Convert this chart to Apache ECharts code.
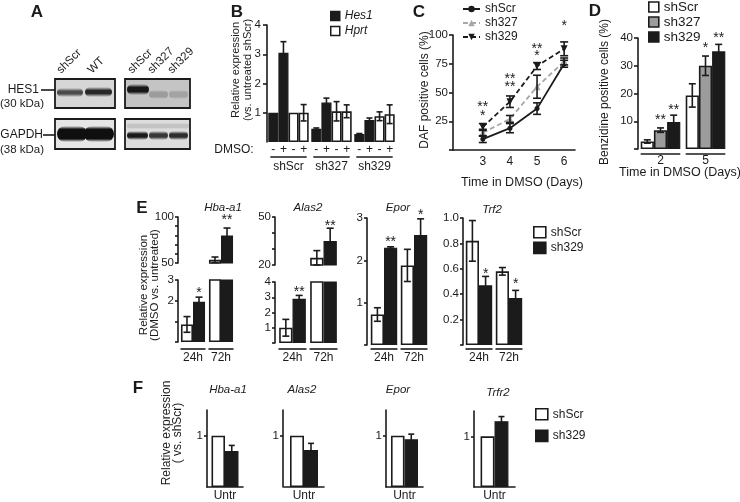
<!DOCTYPE html>
<html><head><meta charset="utf-8">
<script src="https://cdn.jsdelivr.net/npm/echarts@6/dist/echarts.min.js"></script>
<style>html,body{margin:0;padding:0;background:#fff}#c{width:740px;height:502px}</style>
</head><body><div id="c"></div>
<script>
// ================= DATA =================
// Panel B
const bGroups = ['shScr', 'sh327', 'sh329'];
const bDmso = ['-', '+', '-', '+'];
const bHes1Minus = [1.0, 0.45, 0.27],  bHes1MinusErr = [0, 0.03, 0.02];
const bHes1Plus  = [3.05, 1.35, 0.75], bHes1PlusErr  = [0.38, 0.15, 0.07];
const bHprtMinus = [1.0, 1.05, 0.88],  bHprtMinusErr = [0, 0.33, 0.15];
const bHprtPlus  = [1.0, 1.05, 0.95],  bHprtPlusErr  = [0.28, 0.22, 0.32];
const bYTicks = [1, 2, 3, 4];

// Panel C
const cDays = [3, 4, 5, 6];
const cShScr = [9.5, 19, 36, 75], cShScrErr = [3, 4, 5, 3];
const cSh327 = [15, 27, 55, 77],  cSh327Err = [3, 3, 10, 3];
const cSh329 = [20, 42, 73, 88],  cSh329Err = [3, 5, 3, 6];
const cYTicks = [25, 50, 75, 100];
const cStars = [[3, 32, '*'], [3, 40, '**'], [4, 57, '**'], [4, 64, '**'], [5, 84, '*'], [5, 90, '**'], [6, 110, '*']];

// Panel D
const dDays = ['2', '5'];
const dShScr = [2.7, 19.3], dShScrErr = [0.6, 4.2];
const dSh327 = [6.8, 30],   dSh327Err = [0.8, 3.5];
const dSh329 = [9.7, 35.2], dSh329Err = [2.5, 2.5];
const dYTicks = [10, 20, 30, 40];
const dStars = [[0, 1, 11.5, '**'], [0, 2, 15, '**'], [1, 1, 37.5, '*'], [1, 2, 41, '**']];

// Panel E
const eTimes = ['24h', '72h'];
const eHbaScr = [0.85, 53.5], eHbaScrErr = [0.38, 3];
const eHba329 = [1.95, 80],   eHba329Err = [0.22, 8];
const eAlasScr = [1.0, 24.5], eAlasScrErr = [0.55, 4.5];
const eAlas329 = [2.9, 35],   eAlas329Err = [0.22, 8];
const eEporScr = [0.72, 1.88], eEporScrErr = [0.16, 0.38];
const eEpor329 = [2.3, 2.6],   eEpor329Err = [0.02, 0.38];
const eTrfScr = [0.82, 0.58], eTrfScrErr = [0.16, 0.03];
const eTrf329 = [0.47, 0.37], eTrf329Err = [0.07, 0.06];

// Panel F
const fCats = ['Untr'];
const fHbaScr = [1.0],  fHba329 = [0.7],  fHba329Err = [0.11];
const fAlasScr = [1.0], fAlas329 = [0.72], fAlas329Err = [0.13];
const fEporScr = [1.0], fEpor329 = [0.93], fEpor329Err = [0.1];
const fTrfScr = [1.0],  fTrf329 = [1.3],  fTrf329Err = [0.09];

// ================= STYLE / HELPERS =================
const INK = '#1b1b1b';
const FONT = '"Liberation Sans", Arial, sans-serif';
const TICKFS = 11.5;
const WHITE = {color: '#ffffff', borderColor: INK, borderWidth: 1.6};
const BLACK = {color: INK, borderColor: INK, borderWidth: 1.2};
const GRAY  = {color: '#9c9c9c', borderColor: INK, borderWidth: 1.6};

const grids = [], xAxes = [], yAxes = [], series = [], graphics = [];
const underlines = [];

function errItem(n, gap, idx, cap) {
  return function (params, api) {
    const ci = api.value(0), v = api.value(1), e = api.value(2);
    const band = api.size([1, 0])[0], tot = band * (1 - gap), w = tot / n;
    const x = api.coord([ci, v])[0] - tot / 2 + w * (idx + 0.5);
    const yh = api.coord([ci, v + e])[1], yl = api.coord([ci, v - e])[1];
    const st = {stroke: INK, lineWidth: 1.6};
    return {type: 'group', children: [
      {type: 'line', shape: {x1: x, y1: yh, x2: x, y2: yl}, style: st},
      {type: 'line', shape: {x1: x - cap / 2, y1: yh, x2: x + cap / 2, y2: yh}, style: st},
      {type: 'line', shape: {x1: x - cap / 2, y1: yl, x2: x + cap / 2, y2: yl}, style: st}
    ]};
  };
}
function starItem(stars, n, gap, fs) {
  return function (params, api) {
    const s = stars[params.dataIndex];
    const band = api.size([1, 0])[0], tot = band * (1 - gap), w = tot / n;
    const c = api.coord([s[0], s[2]]);
    const x = c[0] - tot / 2 + w * (s[1] + 0.5);
    return {type: 'text', x: x, y: c[1] + 3, style: {text: s[3], fill: INK, fontSize: fs, fontFamily: FONT, align: 'center', verticalAlign: 'middle'}};
  };
}

function groupedBars(o) {
  const gi = grids.push({left: o.left, top: o.top, width: o.width, height: o.height}) - 1;
  const xi = xAxes.push({
    gridIndex: gi, type: 'category', data: o.cats,
    axisLine: {show: !!o.xLine, lineStyle: {color: INK, width: 1.6}},
    axisTick: {show: false},
    axisLabel: {show: !!o.xLabels, color: INK, fontFamily: FONT, fontSize: o.xFont || 12, margin: o.xMargin || 8, interval: 0},
    splitLine: {show: false}
  }) - 1;
  const yi = yAxes.push({
    gridIndex: gi, type: 'value', min: o.min, max: o.max, offset: o.offset || 0,
    axisLine: {show: true, lineStyle: {color: INK, width: 1.6}},
    axisTick: {show: true, length: o.tickLen || 4, lineStyle: {color: INK, width: 1.6}, customValues: o.ticks},
    axisLabel: {show: true, color: INK, fontFamily: FONT, fontSize: o.yFont || TICKFS, margin: o.yMargin || 5, customValues: o.labels,
      formatter: o.fmt || function (v) { return String(v); }},
    splitLine: {show: false}
  }) - 1;
  const n = o.series.length, gap = o.gap;
  o.series.forEach(function (s) {
    series.push({type: 'bar', name: s.name, xAxisIndex: xi, yAxisIndex: yi, data: s.data,
      barGap: '0%', barCategoryGap: (gap * 100) + '%', itemStyle: s.style, clip: true, silent: true, z: 2});
  });
  o.series.forEach(function (s, idx) {
    if (!s.err) return;
    const d = s.data.map(function (v, i) { return [i, v, s.err[i]]; })
      .filter(function (p) { return p[1] != null && p[2] > 0 && p[1] >= o.min && p[1] <= o.max; });
    series.push({type: 'custom', xAxisIndex: xi, yAxisIndex: yi, z: 5, silent: true, data: d, renderItem: errItem(n, gap, idx, o.cap || 7)});
  });
  if (o.stars && o.stars.length) {
    series.push({type: 'custom', xAxisIndex: xi, yAxisIndex: yi, z: 6, silent: true,
      data: o.stars.map(function (s) { return [s[0], s[2]]; }), renderItem: starItem(o.stars, n, gap, o.starSize || 14)});
  }
  if (o.underline) underlines.push({xi: xi, n: o.cats.length, width: o.width, y: o.underline.y, inset: o.underline.inset});
  return {gi: gi, xi: xi, yi: yi};
}

function T(x, y, text, o) {
  o = o || {};
  graphics.push({type: 'text', x: x, y: y, rotation: o.rot || 0, z: 20, silent: true,
    style: {text: text, fill: INK, fontSize: o.size || 12, fontFamily: FONT, fontWeight: o.weight || 'normal',
      fontStyle: o.style || 'normal', align: o.align || 'center', verticalAlign: o.valign || 'middle', lineHeight: o.lh || 12}});
}
function L(x1, y1, x2, y2, w) {
  graphics.push({type: 'line', z: 20, silent: true, shape: {x1: x1, y1: y1, x2: x2, y2: y2}, style: {stroke: INK, lineWidth: w || 1.6}});
}
function R(x, y, w, h, fill, stroke, lw) {
  graphics.push({type: 'rect', z: 15, silent: true, shape: {x: x, y: y, width: w, height: h}, style: {fill: fill, stroke: stroke || null, lineWidth: lw || 0}});
}
function BAND(x, y, w, h, a, core) {
  const c = core || 0.5;
  graphics.push({type: 'rect', z: 16, silent: true, shape: {x: x, y: y, width: w, height: h, r: h / 2},
    style: {fill: {type: 'linear', x: 0, y: 0, x2: 0, y2: 1, colorStops: [
      {offset: 0, color: 'rgba(15,15,15,0)'}, {offset: 0.5 - c / 2, color: 'rgba(15,15,15,' + a + ')'},
      {offset: 0.5 + c / 2, color: 'rgba(15,15,15,' + a + ')'}, {offset: 1, color: 'rgba(15,15,15,0)'}]}}});
}

// ================= PANEL C (line chart) — first so legend picks line icons =================
const gC = grids.push({left: 453, top: 35, width: 122, height: 115}) - 1;
const xC = xAxes.push({gridIndex: gC, type: 'value', min: 1.9, max: 6.4,
  axisLine: {show: true, onZero: false, lineStyle: {color: INK, width: 1.6}},
  axisTick: {show: false},
  axisLabel: {color: INK, fontFamily: FONT, fontSize: 12, margin: 6, customValues: cDays},
  splitLine: {show: false}}) - 1;
const yC = yAxes.push({gridIndex: gC, type: 'value', min: 0, max: 100,
  axisLine: {show: true, lineStyle: {color: INK, width: 1.6}},
  axisTick: {show: true, length: 4, lineStyle: {color: INK, width: 1.6}, customValues: [0].concat(cYTicks)},
  axisLabel: {color: INK, fontFamily: FONT, fontSize: TICKFS, margin: 5, customValues: cYTicks},
  splitLine: {show: false}}) - 1;
function cLine(name, vals, style) {
  series.push(Object.assign({type: 'line', name: name, xAxisIndex: xC, yAxisIndex: yC, silent: true,
    data: cDays.map(function (d, i) { return [d, vals[i]]; })}, style));
}
function cErr(vals, errs, z) {
  series.push({type: 'custom', xAxisIndex: xC, yAxisIndex: yC, z: z, silent: true,
    data: cDays.map(function (d, i) { return [d, vals[i], errs[i]]; }),
    renderItem: function (params, api) {
      const x = api.coord([api.value(0), api.value(1)])[0];
      const yh = api.coord([api.value(0), api.value(1) + api.value(2)])[1];
      const yl = api.coord([api.value(0), api.value(1) - api.value(2)])[1];
      const st = {stroke: INK, lineWidth: 1.6};
      return {type: 'group', children: [
        {type: 'line', shape: {x1: x, y1: yh, x2: x, y2: yl}, style: st},
        {type: 'line', shape: {x1: x - 4, y1: yh, x2: x + 4, y2: yh}, style: st},
        {type: 'line', shape: {x1: x - 4, y1: yl, x2: x + 4, y2: yl}, style: st}]};
    }});
}
cLine('shScr', cShScr, {symbol: 'circle', symbolSize: 5, z: 3, lineStyle: {color: INK, width: 1.8}, itemStyle: {color: INK}});
cLine('sh327', cSh327, {symbol: 'triangle', symbolSize: 7, z: 3, lineStyle: {color: '#a8a8a8', width: 1.8, type: [5, 3]}, itemStyle: {color: '#a8a8a8'}});
cLine('sh329', cSh329, {symbol: 'triangle', symbolRotate: 180, symbolSize: 7, z: 4, lineStyle: {color: INK, width: 1.8, type: [5, 3]}, itemStyle: {color: INK}});
cErr(cShScr, cShScrErr, 5); cErr(cSh327, cSh327Err, 5); cErr(cSh329, cSh329Err, 5);
series.push({type: 'custom', xAxisIndex: xC, yAxisIndex: yC, z: 6, silent: true,
  data: cStars.map(function (s) { return [s[0], s[1]]; }),
  renderItem: function (params, api) {
    const s = cStars[params.dataIndex];
    const c = api.coord([s[0], s[1]]);
    return {type: 'text', x: c[0], y: c[1] + 3, style: {text: s[2], fill: INK, fontSize: 14, fontFamily: FONT, align: 'center', verticalAlign: 'middle'}};
  }});

// ================= PANEL B =================
const pB = groupedBars({left: 267, top: 25, width: 129, height: 117, cats: bGroups, min: 0, max: 4,
  ticks: bYTicks, labels: bYTicks, gap: 0.06, xLabels: true, xMargin: 19, cap: 6, yMargin: 6,
  series: [
    {name: 'Hes1', data: bHes1Minus, err: bHes1MinusErr, style: BLACK},
    {name: 'Hes1', data: bHes1Plus, err: bHes1PlusErr, style: BLACK},
    {name: 'Hprt', data: bHprtMinus, err: bHprtMinusErr, style: WHITE},
    {name: 'Hprt', data: bHprtPlus, err: bHprtPlusErr, style: WHITE}]});

// ================= PANEL D =================
groupedBars({left: 638, top: 38, width: 90, height: 111, cats: dDays, min: 0, max: 40,
  ticks: [0].concat(dYTicks), labels: dYTicks, gap: 0.12, xLabels: true, xMargin: 6, cap: 7,
  underline: {y: 154, inset: 0}, stars: dStars,
  series: [
    {name: 'shScr', data: dShScr, err: dShScrErr, style: WHITE},
    {name: 'sh327', data: dSh327, err: dSh327Err, style: GRAY},
    {name: 'sh329', data: dSh329, err: dSh329Err, style: BLACK}]});

// ================= PANEL E =================
function eSeries(scr, scrErr, s329, s329Err) {
  return [{name: 'shScr', data: scr, err: scrErr, style: WHITE}, {name: 'sh329', data: s329, err: s329Err, style: BLACK}];
}
groupedBars({left: 179, top: 217, width: 56, height: 46, cats: eTimes, min: 50, max: 100, offset: 1, tickLen: 3, yMargin: 4,
  ticks: [50, 60, 70, 80, 90, 100], labels: [50, 100], gap: 0.14, stars: [[1, 1, 100, '**']],
  series: eSeries(eHbaScr, eHbaScrErr, eHba329, eHba329Err)});
groupedBars({left: 179, top: 280, width: 56, height: 62, cats: eTimes, min: 0, max: 3, offset: 1, tickLen: 3, yMargin: 4,
  ticks: [0, 1, 2, 3], labels: [2, 3], gap: 0.14, xLabels: true, xMargin: 10, stars: [[0, 1, 2.5, '*']],
  underline: {y: 349, inset: 1.5},
  series: eSeries(eHbaScr, eHbaScrErr, eHba329, eHba329Err)});
groupedBars({left: 277, top: 217, width: 62, height: 48, cats: eTimes, min: 20, max: 50, offset: 2, tickLen: 3, yMargin: 4,
  ticks: [20, 30, 40, 50], labels: [20, 50], gap: 0.14, stars: [[1, 1, 46, '**']],
  series: eSeries(eAlasScr, eAlasScrErr, eAlas329, eAlas329Err)});
groupedBars({left: 277, top: 282, width: 62, height: 61, cats: eTimes, min: 0, max: 4, offset: 2, tickLen: 3, yMargin: 4,
  ticks: [0, 1, 2, 3, 4], labels: [1, 2, 3, 4], gap: 0.14, xLabels: true, xMargin: 9, stars: [[0, 1, 3.55, '**']],
  underline: {y: 349, inset: 1.5},
  series: eSeries(eAlasScr, eAlasScrErr, eAlas329, eAlas329Err)});
groupedBars({left: 369, top: 218, width: 60, height: 127, cats: eTimes, min: 0, max: 3, offset: 2, tickLen: 3, yMargin: 4,
  ticks: [0, 1, 2, 3], labels: [1, 2, 3], gap: 0.12, xLabels: true, xMargin: 7,
  stars: [[0, 1, 2.5, '**'], [1, 1, 3.13, '*']], underline: {y: 349, inset: 1.5},
  series: eSeries(eEporScr, eEporScrErr, eEpor329, eEpor329Err)});
groupedBars({left: 464, top: 218, width: 60, height: 127, cats: eTimes, min: 0, max: 1, offset: 1, tickLen: 3, yMargin: 4,
  ticks: [0, 0.2, 0.4, 0.6, 0.8, 1.0], labels: [0.2, 0.4, 0.6, 0.8, 1.0], gap: 0.12, xLabels: true, xMargin: 7,
  fmt: function (v) { return v.toFixed(1); },
  stars: [[0, 1, 0.58, '*'], [1, 1, 0.5, '*']], underline: {y: 349, inset: 1.5},
  series: eSeries(eTrfScr, eTrfScrErr, eTrf329, eTrf329Err)});

// ================= PANEL F =================
function fPanel(left, top, width, gap, offset, scr, s329, s329Err) {
  groupedBars({left: left, top: top, width: width, height: 77, cats: fCats, min: 0, max: 1.5, offset: offset,
    ticks: [1], labels: [1], gap: gap, xLabels: true, xLine: true, xMargin: 3, xFont: 12, yFont: 11.5, cap: 6, tickLen: 3, yMargin: 4,
    series: [{name: 'shScr', data: scr, style: WHITE}, {name: 'sh329', data: s329, err: s329Err, style: BLACK}]});
}
fPanel(207, 410, 36, 0.25, 0, fHbaScr, fHba329, fHba329Err);
fPanel(284, 410, 40, 0.30, 1, fAlasScr, fAlas329, fAlas329Err);
fPanel(386, 410, 37, 0.27, 0, fEporScr, fEpor329, fEpor329Err);
fPanel(474, 411, 41, 0.32, 0, fTrfScr, fTrf329, fTrf329Err);

// ================= LEGENDS =================
function legTxt(size, extra) { return Object.assign({color: INK, fontFamily: FONT, fontSize: size}, extra || {}); }
const legends = [
  {data: [{name: 'Hes1', icon: 'rect', itemStyle: {color: INK, borderColor: INK, borderWidth: 1.5}},
          {name: 'Hprt', icon: 'rect', itemStyle: {color: '#fff', borderColor: INK, borderWidth: 1.5}}],
   left: 330, top: 10, padding: 0, orient: 'vertical', itemWidth: 9, itemHeight: 9, itemGap: 3, selectedMode: false,
   textStyle: legTxt(12, {fontStyle: 'italic'})},
  {data: ['shScr', 'sh327', 'sh329'], left: 462, top: 3, padding: 0, orient: 'vertical', itemWidth: 17, itemHeight: 8, itemGap: 2,
   selectedMode: false, textStyle: legTxt(12)},
  {data: [{name: 'shScr', icon: 'rect', itemStyle: {color: '#fff', borderColor: INK, borderWidth: 1.6}},
          {name: 'sh327', icon: 'rect', itemStyle: {color: '#9c9c9c', borderColor: INK, borderWidth: 1.6}},
          {name: 'sh329', icon: 'rect', itemStyle: {color: INK, borderColor: INK, borderWidth: 1.6}}],
   left: 648, top: 0, padding: 0, orient: 'vertical', itemWidth: 10, itemHeight: 10, itemGap: 1, selectedMode: false, textStyle: legTxt(13.5)},
  {data: [{name: 'shScr', icon: 'rect', itemStyle: {color: '#fff', borderColor: INK, borderWidth: 1.6}},
          {name: 'sh329', icon: 'rect', itemStyle: {color: INK, borderColor: INK, borderWidth: 1.6}}],
   left: 533, top: 226, padding: 0, orient: 'vertical', itemWidth: 12, itemHeight: 11, itemGap: 3, selectedMode: false, textStyle: legTxt(12)},
  {data: [{name: 'shScr', icon: 'rect', itemStyle: {color: '#fff', borderColor: INK, borderWidth: 1.6}},
          {name: 'sh329', icon: 'rect', itemStyle: {color: INK, borderColor: INK, borderWidth: 1.6}}],
   left: 535, top: 408, padding: 0, orient: 'vertical', itemWidth: 12, itemHeight: 11, itemGap: 9, selectedMode: false, textStyle: legTxt(12)}
];

// ================= STATIC TEXT & BLOTS =================
T(37, 12, 'A', {size: 17, weight: 'bold'});
T(237, 12, 'B', {size: 17, weight: 'bold'});
T(419, 12, 'C', {size: 17, weight: 'bold'});
T(595, 11, 'D', {size: 17, weight: 'bold'});
T(142, 208, 'E', {size: 17, weight: 'bold'});
T(138, 388, 'F', {size: 17, weight: 'bold'});

// Panel A: western blots
R(55, 79, 60, 29, '#d6d6d6', INK, 1.8);
R(125, 79, 65, 29, '#c4c4c4', INK, 1.8);
R(55, 119, 60, 30, '#e6e6e6', INK, 1.8);
R(125, 119, 65, 30, '#dcdcdc', INK, 1.8);
BAND(57, 88, 26, 9, 0.7, 0.3); BAND(85, 87, 27, 10, 0.88, 0.3);
BAND(127, 84, 22, 11, 0.95, 0.4); BAND(149, 90, 19, 9, 0.22); BAND(169, 90, 19, 9, 0.18);
BAND(57, 126, 30, 16, 1, 0.6); BAND(84, 126, 30, 16, 1, 0.6);
BAND(127, 131, 21, 9, 0.95, 0.35); BAND(149, 131, 19, 9, 0.8, 0.35); BAND(169, 131, 19, 9, 0.85, 0.35);
BAND(127, 123, 62, 6, 0.12);
T(39, 90, 'HES1', {align: 'right', size: 12});
L(41, 90, 55, 90);
T(0, 104, '(30 kDa)', {align: 'left', size: 11.5});
T(43, 135, 'GAPDH', {align: 'right', size: 12});
L(43, 135, 55, 135);
T(0, 150, '(38 kDa)', {align: 'left', size: 11.5});
[['shScr', 63], ['WT', 94], ['shScr', 134], ['sh327', 154], ['sh329', 174]].forEach(function (p) {
  T(p[1], 76, p[0], {align: 'left', valign: 'bottom', rot: Math.PI / 4, size: 11.5});
});

// axis titles
T(242, 70, 'Relative expression\n(vs. untreated shScr)', {rot: Math.PI / 2, size: 11, lh: 11.5});
T(234, 150, 'DMSO:', {size: 12});
T(425, 90, 'DAF positive cells (%)', {rot: Math.PI / 2, size: 12});
T(522, 183, 'Time in DMSO (Days)', {size: 12.5});
T(605, 92, 'Benzidine positive cells (%)', {rot: Math.PI / 2, size: 12});
T(680, 173, 'Time in DMSO (Days)', {size: 12.5});
T(149, 285, 'Relative expression\n(DMSO vs. untreated)', {rot: Math.PI / 2, size: 11.5, lh: 11});
T(172, 433, 'Relative expression\n( vs. shScr)', {rot: Math.PI / 2, size: 12, lh: 11});
[['Hba-a1', 223, 208], ['Alas2', 308, 208], ['Epor', 398, 208], ['Trf2', 492, 210]].forEach(function (p) {
  T(p[1], p[2], p[0], {style: 'italic', size: 11.5});
});
[['Hba-a1', 228, 390], ['Alas2', 302, 390], ['Epor', 398, 390], ['Trfr2', 498, 393]].forEach(function (p) {
  T(p[1], p[2], p[0], {style: 'italic', size: 11.5});
});

// ================= RENDER =================
const chart = echarts.init(document.getElementById('c'));
chart.setOption({animation: false, backgroundColor: '#fff', textStyle: {fontFamily: FONT},
  grid: grids, xAxis: xAxes, yAxis: yAxes, series: series, legend: legends});

(function () {
  const band = 129 / bGroups.length, tot = band * (1 - 0.06), w = tot / 4;
  bGroups.forEach(function (g, i) {
    const cx = chart.convertToPixel({xAxisIndex: pB.xi}, i);
    bDmso.forEach(function (s, k) { T(cx - tot / 2 + w * (k + 0.5), 150, s, {size: 12}); });
    L(cx - tot / 2 + 2, 157, cx + tot / 2 - 2, 157);
  });
  underlines.forEach(function (u) {
    const bw = u.width / u.n;
    for (let i = 0; i < u.n; i++) {
      const cx = chart.convertToPixel({xAxisIndex: u.xi}, i);
      const half = u.inset ? bw / 2 - u.inset : bw * (1 - 0.12) / 2;
      L(cx - half, u.y, cx + half, u.y);
    }
  });
})();
chart.setOption({graphic: graphics});
</script>
</body></html>
